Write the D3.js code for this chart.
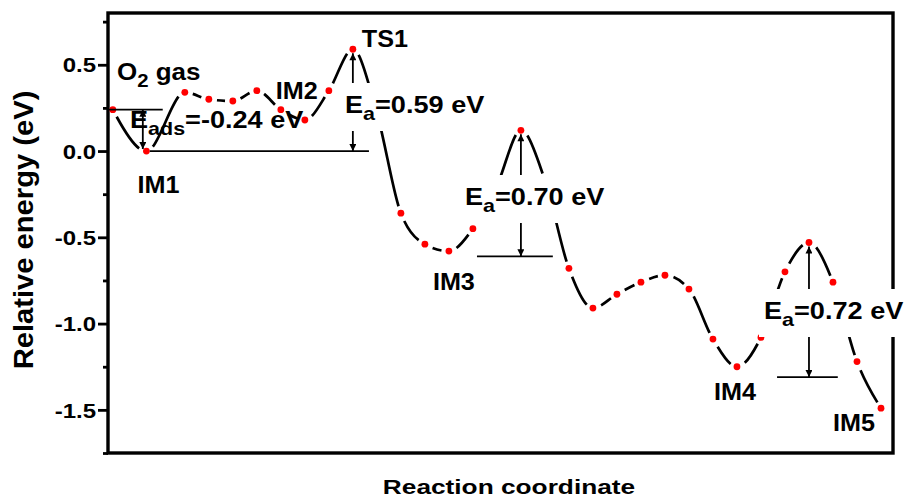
<!DOCTYPE html>
<html>
<head>
<meta charset="utf-8">
<script src="https://cdn.jsdelivr.net/npm/d3@7"></script>
<style>
  html, body { margin: 0; padding: 0; background: #fff; }
  text { font-family: "Liberation Sans", Arial, sans-serif; font-weight: bold; fill: #000; }
</style>
</head>
<body>
<svg id="chart" width="904" height="500"></svg>
<script>
// reaction path: step along the coordinate and relative energy (eV)
var steps  = [0, 1.4, 3, 4, 5, 6, 7, 8, 9, 10, 11, 12, 13, 14, 15, 16, 17, 18, 19, 20, 21, 22, 23, 24, 25, 26, 27, 28, 29, 30, 31, 32];
var energy = [0.24, 0.00, 0.34, 0.30, 0.29, 0.35, 0.24, 0.18, 0.35, 0.59, 0.22, -0.36, -0.54, -0.58, -0.45, -0.20, 0.12, -0.17,
              -0.68, -0.91, -0.83, -0.76, -0.72, -0.80, -1.09, -1.25, -1.08, -0.70, -0.53, -0.76, -1.22, -1.49];

var yMajor = [-1.5, -1.0, -0.5, 0.0, 0.5];
var yMinor = [-1.75, -1.25, -0.75, -0.25, 0.25, 0.75];

// labelled states
var stateNames = ["IM1", "IM2", "TS1", "IM3", "IM4", "IM5"];
var stateSteps = [1.4, 8, 10, 14, 26, 32];

// barriers: transition state step, reference level, text
var barrierSteps = [10, 17, 29];
var barrierBase  = [0.0, -0.61, -1.31];
var barrierText  = ["0.59", "0.70", "0.72"];
var baseFrom     = [1.54, 15.17, 27.67];
var baseTo       = [10.67, 18.33, 30.2];

var svg = d3.select("#chart");
var plot = {left: 108, right: 893, top: 13, bottom: 453};

var x = d3.scaleLinear().domain([-0.2, 32.5]).range([plot.left, plot.right]);
var y = d3.scaleLinear().domain([-1.75, 0.8]).range([plot.bottom, plot.top]);

var pts = steps.map(function(s, i){ return [s, energy[i]]; });

// text with optional subscripts, parts = [[str, isSub], ...]
function rich(g, parts, o) {
  var sx = o.sx || 1, size = o.size;
  var t = g.append("text")
    .attr("transform", "translate(" + o.x + "," + o.y + ") scale(" + sx + ",1)")
    .attr("text-anchor", o.anchor || "start")
    .style("font-size", size + "px");
  var shift = Math.round(size * 0.3);
  var wasSub = false;
  parts.forEach(function(p){
    var ts = t.append("tspan").text(p[0]);
    if (p[1]) { ts.attr("dy", shift).style("font-size", Math.round(size * 0.78) + "px"); wasSub = true; }
    else if (wasSub) { ts.attr("dy", -shift); wasSub = false; }
  });
  return t;
}

var defs = svg.append("defs");
defs.append("marker")
  .attr("id", "head")
  .attr("viewBox", "0 0 10 10")
  .attr("refX", 10).attr("refY", 5)
  .attr("markerWidth", 9).attr("markerHeight", 7)
  .attr("markerUnits", "userSpaceOnUse")
  .attr("orient", "auto-start-reverse")
  .append("path").attr("d", "M0,0L10,5L0,10Z").attr("fill", "#000");

// y axis ticks (major and minor in their own groups)
var tsx = 1.2;
var axMajor = svg.append("g").attr("transform", "translate(" + plot.left + ",0)")
  .call(d3.axisLeft(y).tickValues(yMajor).tickSize(10).tickFormat(function(d){ return d.toFixed(1); }));
var axMinor = svg.append("g").attr("transform", "translate(" + plot.left + ",0)")
  .call(d3.axisLeft(y).tickValues(yMinor).tickSize(5).tickFormat(""));
[axMajor, axMinor].forEach(function(a){
  a.select(".domain").remove();
  a.selectAll("line").attr("stroke", "#000").attr("stroke-width", 2.8);
});
axMajor.selectAll("text")
  .attr("x", -12 / tsx).attr("dy", "0.36em")
  .attr("fill", "#000")
  .attr("transform", "scale(" + tsx + ",1)")
  .style("font-size", "20px")
  .style("font-family", "'Liberation Sans', Arial, sans-serif")
  .style("font-weight", "bold");

// frame
svg.append("rect")
  .attr("x", plot.left).attr("y", plot.top)
  .attr("width", plot.right - plot.left).attr("height", plot.bottom - plot.top)
  .attr("fill", "none").attr("stroke", "#000").attr("stroke-width", 3.4);

// smooth path, one dash per interval with gaps at the points
var line = d3.line().x(function(d){ return x(d[0]); }).y(function(d){ return y(d[1]); }).curve(d3.curveMonotoneX);
var path = svg.append("path").attr("d", line(pts))
  .attr("fill", "none").attr("stroke", "#000").attr("stroke-width", 2.7).attr("stroke-linecap", "butt");
var node = path.node(), total = node.getTotalLength();
function lengthAtX(px) {
  var lo = 0, hi = total;
  for (var k = 0; k < 40; k++) {
    var mid = (lo + hi) / 2;
    if (node.getPointAtLength(mid).x < px) lo = mid; else hi = mid;
  }
  return (lo + hi) / 2;
}
var at = pts.map(function(d){ return lengthAtX(x(d[0])); });
at[0] = 0; at[at.length - 1] = total;
var gap = 8, dash = [0, gap];
for (var i = 1; i < at.length; i++) {
  dash.push(Math.max(0, at[i] - at[i - 1] - 2 * gap), 2 * gap);
}
path.attr("stroke-dasharray", dash.join(","));

// points
svg.append("g").selectAll("circle").data(pts).join("circle")
  .attr("cx", function(d){ return x(d[0]); })
  .attr("cy", function(d){ return y(d[1]); })
  .attr("r", 3.4).attr("fill", "#ff0000");

// adsorption annotation
var ann = svg.append("g");
ann.append("line")
  .attr("x1", plot.left).attr("x2", x(2.08))
  .attr("y1", y(energy[0])).attr("y2", y(energy[0]))
  .attr("stroke", "#000").attr("stroke-width", 1.8);
ann.append("line")
  .attr("x1", x(1.25)).attr("x2", x(1.25))
  .attr("y1", y(energy[0])).attr("y2", y(energy[1]) - 2)
  .attr("stroke", "#000").attr("stroke-width", 1.8)
  .attr("marker-start", "url(#head)").attr("marker-end", "url(#head)");

// barrier annotations
var eaPos = [[345, 113], [465, 205], [764, 319]];
barrierSteps.forEach(function(s, i){
  var top = energy[steps.indexOf(s)];
  ann.append("line")
    .attr("x1", x(baseFrom[i])).attr("x2", x(baseTo[i]))
    .attr("y1", y(barrierBase[i])).attr("y2", y(barrierBase[i]))
    .attr("stroke", "#000").attr("stroke-width", 1.8);
  ann.append("line")
    .attr("x1", x(s)).attr("x2", x(s))
    .attr("y1", y(top) + 4).attr("y2", y(barrierBase[i]))
    .attr("stroke", "#000").attr("stroke-width", 1.8)
    .attr("marker-start", "url(#head)").attr("marker-end", "url(#head)");
});

var lab = svg.append("g");
var esx = 1.13;
barrierText.forEach(function(v, i){
  var p = eaPos[i];
  var t = rich(lab, [["E", false], ["a", true], ["=" + v + " eV", false]], {x: p[0], y: p[1], size: 24, sx: esx});
  var b = t.node().getBBox();
  lab.insert("rect", function(){ return t.node(); })
    .attr("x", p[0] + b.x * esx - 5).attr("width", b.width * esx + 10)
    .attr("y", p[1] - 30).attr("height", 48)
    .attr("fill", "#fff");
});

rich(lab, [["E", false], ["ads", true], ["=-0.24 eV", false]], {x: 130, y: 128, size: 24, sx: esx});
rich(lab, [["O", false], ["2", true], [" gas", false]], {x: 117, y: 80, size: 23, sx: esx});

var nameOff = [[12, 42], [-8, -21], [9, -2], [5, 39], [-2, 33], [-27, 23]];
stateNames.forEach(function(n, i){
  var e = energy[steps.indexOf(stateSteps[i])];
  rich(lab, [[n, false]], {
    x: x(stateSteps[i]) + nameOff[i][0], y: y(e) + nameOff[i][1],
    size: 24, sx: 1.05, anchor: i === 2 ? "start" : "middle"
  });
});

// axis titles
rich(svg, [["Reaction coordinate", false]], {x: 509, y: 494, size: 21, sx: 1.25, anchor: "middle"});
svg.append("text")
  .attr("transform", "translate(33,230) rotate(-90) scale(1.08,1)")
  .attr("text-anchor", "middle")
  .style("font-size", "27px")
  .text("Relative energy (eV)");
</script>
</body>
</html>
